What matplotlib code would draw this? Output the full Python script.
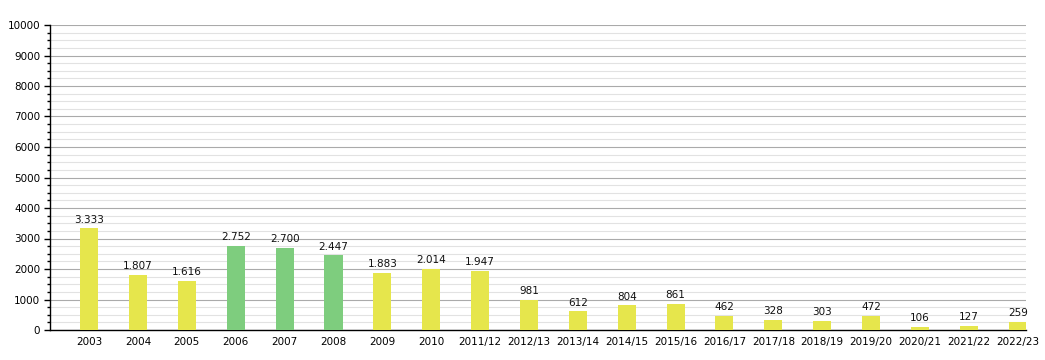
import matplotlib
matplotlib.use("Agg")
import matplotlib.pyplot as plt
from matplotlib.ticker import MultipleLocator

# ── Data ──────────────────────────────────────────────────────────────────────
seasons = ["2003", "2004", "2005", "2006", "2007", "2008", "2009", "2010",
           "2011/12", "2012/13", "2013/14", "2014/15", "2015/16", "2016/17",
           "2017/18", "2018/19", "2019/20", "2020/21", "2021/22", "2022/23"]
values = [3333, 1807, 1616, 2752, 2700, 2447, 1883, 2014, 1947, 981,
          612, 804, 861, 462, 328, 303, 472, 106, 127, 259]
highlight = ["2006", "2007", "2008"]

C_YELLOW = "#e6e64c"
C_GREEN = "#7ecd7e"

fig = plt.figure(figsize=(10.45, 3.6), dpi=100)
ax = fig.add_axes([50 / 1045, 1 - 330 / 360, 976 / 1045, 305 / 360])

x = list(range(len(seasons)))
colors = [C_GREEN if s in highlight else C_YELLOW for s in seasons]
ax.bar(x, values, width=0.37, color=colors, zorder=3)

for xi, v in zip(x, values):
    lbl = f"{v:,}".replace(",", ".")
    ax.text(xi, v + 120, lbl, ha="center", va="bottom", fontsize=7.5,
            color="#111111", zorder=4)

ax.set_xlim(-0.8, 19.17)
ax.set_ylim(0, 10000)
ax.set_xticks(x)
ax.set_xticklabels(seasons, fontsize=7.5)
ax.tick_params(axis="x", length=0, pad=5)

ax.yaxis.set_major_locator(MultipleLocator(1000))
ax.yaxis.set_minor_locator(MultipleLocator(250))
ax.tick_params(axis="y", which="major", length=4, width=1, labelsize=7.5, pad=3)
ax.tick_params(axis="y", which="minor", length=2, width=1)
ax.grid(axis="y", which="major", color="#aaaaaa", lw=0.8, zorder=0)
ax.grid(axis="y", which="minor", color="#e2e2e2", lw=0.8, zorder=0)

for side in ("top", "right"):
    ax.spines[side].set_visible(False)
ax.spines["left"].set_linewidth(1)
ax.spines["bottom"].set_linewidth(1)

fig.savefig("out.png", dpi=100, facecolor="white")
